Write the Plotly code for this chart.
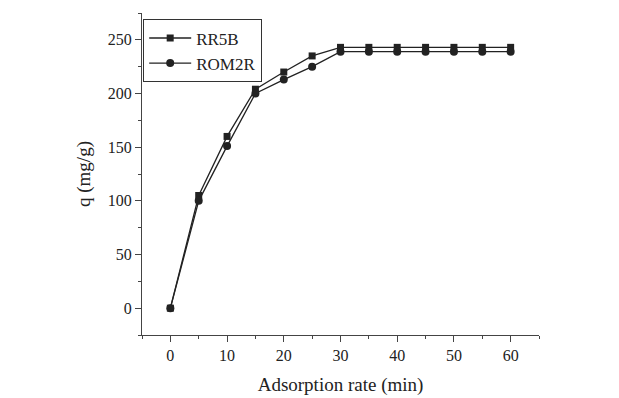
import plotly.graph_objects as go

time_min = [0, 5, 10, 15, 20, 25, 30, 35, 40, 45, 50, 55, 60]
rr5b = [0, 105, 160, 204, 220, 235, 243, 243, 243, 243, 243, 243, 243]
rom2r = [0, 100, 151, 200, 213, 225, 239, 239, 239, 239, 239, 239, 239]
x_ticks = [0, 10, 20, 30, 40, 50, 60]
y_ticks = [0, 50, 100, 150, 200, 250]

FONT = "Liberation Serif, Times New Roman, serif"
INK = "#222222"

fig = go.Figure()
fig.add_trace(go.Scatter(x=time_min, y=rr5b, name="RR5B", mode="lines+markers",
                         line=dict(color=INK, width=1.3),
                         marker=dict(symbol="square", size=7, color=INK)))
fig.add_trace(go.Scatter(x=time_min, y=rom2r, name="ROM2R", mode="lines+markers",
                         line=dict(color=INK, width=1.3),
                         marker=dict(symbol="circle", size=8, color=INK)))

axis_common = dict(showgrid=False, zeroline=False, showline=True, linecolor="#444444",
                   linewidth=1.3, ticks="outside", ticklen=6, tickwidth=1.2,
                   tickcolor="#444444", tickfont=dict(family=FONT, size=16, color=INK),
                   mirror=False)

fig.update_layout(
    width=619, height=398,
    paper_bgcolor="white", plot_bgcolor="white",
    margin=dict(l=134, r=88, t=5, b=71),
    font=dict(family=FONT, color=INK),
    showlegend=True,
    legend=dict(x=0.003, y=0.98, xanchor="left", yanchor="top",
                bordercolor="#333333", borderwidth=1, bgcolor="white",
                font=dict(family=FONT, size=17, color=INK),
                tracegroupgap=0, itemwidth=42),
    xaxis=dict(range=[-5, 65], tickvals=x_ticks,
               minor=dict(dtick=5, tick0=5, ticks="outside", ticklen=3, tickcolor="#444444"),
               title=dict(text="Adsorption rate (min)", font=dict(family=FONT, size=19, color=INK),
                          standoff=14),
               **axis_common),
    yaxis=dict(range=[-25, 275], tickvals=y_ticks,
               minor=dict(dtick=25, tick0=25, ticks="outside", ticklen=3, tickcolor="#444444"),
               title=dict(text="q (mg/g)", font=dict(family=FONT, size=19, color=INK),
                          standoff=12),
               **axis_common),
)

fig.write_html("out.html")
